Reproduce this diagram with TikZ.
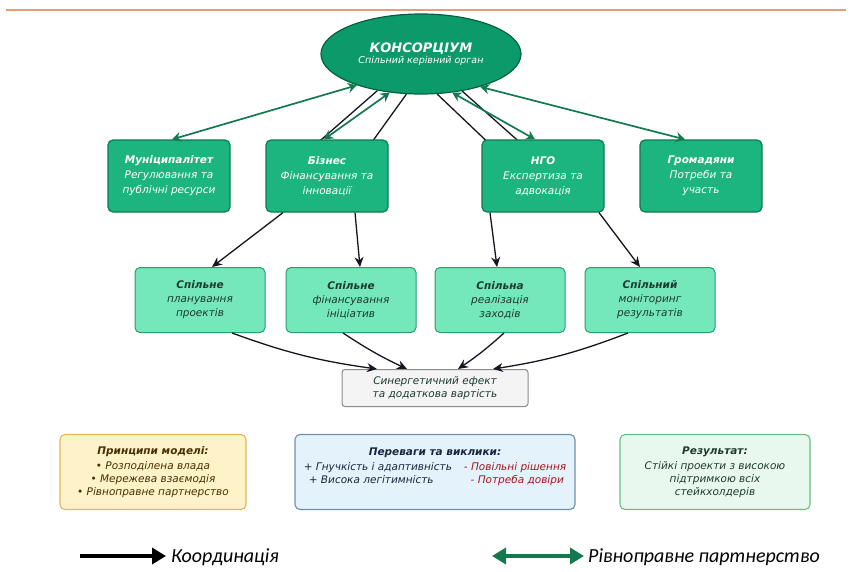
\documentclass[tikz,border=0pt]{standalone}
\usepackage{fontspec}
\setmainfont{DejaVu Sans}[ItalicFont={DejaVu Sans Oblique},BoldFont={DejaVu Sans Bold},BoldItalicFont={DejaVu Sans Bold Oblique}]
\newfontfamily\legfont{Carlito}
\usetikzlibrary{arrows.meta,shapes.geometric,backgrounds}
\definecolor{consF}{HTML}{0B9A6A}
\definecolor{consB}{HTML}{06603F}
\definecolor{actF}{HTML}{1DB57F}
\definecolor{actB}{HTML}{0E7A52}
\definecolor{procF}{HTML}{74E7BB}
\definecolor{procB}{HTML}{22A070}
\definecolor{procT}{HTML}{1C3A30}
\definecolor{synF}{HTML}{F4F4F4}
\definecolor{synB}{HTML}{8A8A8A}
\definecolor{yelF}{HTML}{FDF2C8}
\definecolor{yelB}{HTML}{E2B659}
\definecolor{yelT}{HTML}{4A2E08}
\definecolor{bluF}{HTML}{E4F2FC}
\definecolor{bluB}{HTML}{6F8FAF}
\definecolor{bluT}{HTML}{1A2440}
\definecolor{redT}{HTML}{A01818}
\definecolor{grnF}{HTML}{E8F8EE}
\definecolor{grnB}{HTML}{6ABF80}
\definecolor{grnT}{HTML}{1F3A2A}
\definecolor{garr}{HTML}{137A4F}
\definecolor{karr}{HTML}{15161F}
\definecolor{topline}{HTML}{E99D74}
\tikzset{
  consstyle/.style={ellipse, draw=consB, line width=1.2pt, fill=consF, text=white, align=center, inner sep=0pt},
  actor/.style={draw=actB, line width=1.2pt, fill=actF, rounded corners=5pt, minimum width=122pt, minimum height=72pt, align=center, text=white, font=\fontsize{10.5}{15}\selectfont\itshape},
  procbox/.style={draw=procB, line width=1pt, fill=procF, rounded corners=5pt, minimum width=130pt, minimum height=65pt, align=center, text=procT, font=\fontsize{10.5}{14}\selectfont\itshape},
  synbox/.style={draw=synB, line width=1pt, fill=synF, rounded corners=3pt, minimum width=186pt, minimum height=37pt, align=center, text=procT, font=\fontsize{10.5}{13.5}\selectfont\itshape},
  infobox/.style={line width=1.1pt, rounded corners=5pt, minimum height=75pt, align=center, font=\fontsize{10.5}{13}\selectfont\itshape},
  kline/.style={draw=karr, line width=1.3pt},
  karrow/.style={draw=karr, line width=1.3pt, -{Stealth[length=10pt,width=9pt]}},
  garrow/.style={draw=garr, line width=1.7pt, {Stealth[length=9pt,width=10pt]}-{Stealth[length=9pt,width=10pt]}},
  legtext/.style={anchor=west, font=\legfont\itshape\fontsize{20}{23}\selectfont, text=black, inner sep=0pt}
}
\begin{document}
\begin{tikzpicture}[x=1pt,y=-1pt]
\useasboundingbox (0,0) rectangle (852,571);
\draw[topline, line width=1.2pt] (6,10) -- (846,10);

% consortium
\node[consstyle, minimum width=200pt, minimum height=80pt] (cons) at (421,54)
  {{\bfseries\itshape\fontsize{13}{16}\selectfont КОНСОРЦІУМ}\\[-1pt]{\itshape\fontsize{9.5}{12}\selectfont Спільний керівний орган}};

% actors
\node[actor] (mun) at (169,176) {{\bfseries Муніципалітет}\\Регулювання та\\публічні ресурси};
\node[actor] (bus) at (327,176) {{\bfseries Бізнес}\\Фінансування та\\інновації};
\node[actor] (ngo) at (543,176) {{\bfseries НГО}\\Експертиза та\\адвокація};
\node[actor] (cit) at (701,176) {{\bfseries Громадяни}\\Потреби та\\участь};

% processes
\node[procbox] (pl) at (200,300) {{\bfseries Спільне}\\планування\\проектів};
\node[procbox] (fin) at (351,300) {{\bfseries Спільне}\\фінансування\\ініціатив};
\node[procbox] (rea) at (500,300) {{\bfseries Спільна}\\реалізація\\заходів};
\node[procbox] (mon) at (650,300) {{\bfseries Спільний}\\моніторинг\\результатів};

% synergy
\node[synbox] (syn) at (435,388) {Синергетичний ефект\\та додаткова вартість};

% info boxes
\node[infobox, draw=yelB, fill=yelF, text=yelT, minimum width=186pt] (pri) at (153,472)
  {{\bfseries Принципи моделі:}\\[2pt]• Розподілена влада\\• Мережева взаємодія\\• Рівноправне партнерство};
\node[infobox, draw=bluB, fill=bluF, text=bluT, minimum width=280pt] (adv) at (435,472)
  {{\bfseries Переваги та виклики:}\\[2pt]
   \begin{tabular}{@{}l@{\hspace{12pt}}l@{}}
   + Гнучкість і адаптивність & \textcolor{redT}{- Повільні рішення}\\
   \ \,+ Висока легітимність & \ \ \textcolor{redT}{- Потреба довіри}
   \end{tabular}\\[6pt]};
\node[infobox, draw=grnB, fill=grnF, text=grnT, minimum width=190pt] (res) at (715,472)
  {{\bfseries Результат:}\\[2pt]Стійкі проекти з високою\\підтримкою всіх\\стейкхолдерів};

% black coordination lines between consortium and actors (behind boxes)
\begin{scope}[on background layer]
\draw[kline] (cons.220) -- ([xshift=-10pt,yshift=-4pt]bus.north);
\draw[kline] (cons.250) -- ([xshift=44pt,yshift=-4pt]bus.north);
\draw[kline] (cons.292) -- ([xshift=-54pt,yshift=-4pt]ngo.north);
\draw[kline] (cons.318) -- ([xshift=-22pt,yshift=-4pt]ngo.north);
\end{scope}

% black coordination arrows from actors to processes
\draw[karrow] ([xshift=-44pt]bus.south) -- ([xshift=12pt]pl.north);
\draw[karrow] ([xshift=28pt]bus.south) -- ([xshift=9pt]fin.north);
\draw[karrow] ([xshift=-53pt]ngo.south) -- ([xshift=-3pt]rea.north);
\draw[karrow] ([xshift=56pt]ngo.south) -- ([xshift=-10pt]mon.north);

% green partnership arrows
\draw[garrow] (cons.206) -- ([xshift=3pt]mun.north);
\draw[garrow] (cons.231) -- ([xshift=-3pt]bus.north);
\draw[garrow] (cons.309) -- ([xshift=-8pt]ngo.north);
\draw[garrow] (cons.331) -- ([xshift=-16pt]cit.north);

% to synergy
\draw[karrow] ([xshift=32pt]pl.south) to[bend right=6] ([xshift=-58pt]syn.north);
\draw[karrow] ([xshift=-8pt]fin.south) to[bend right=4] ([xshift=-28pt]syn.north);
\draw[karrow] ([xshift=4pt]rea.south) to[bend left=4] ([xshift=23pt]syn.north);
\draw[karrow] ([xshift=-22pt]mon.south) to[bend left=6] ([xshift=58pt]syn.north);

% legend
\coordinate (la) at (80,556);
\coordinate (lb) at (166,556);
\draw[draw=black, line width=4pt, -{Triangle[length=14pt,width=16pt]}] (la) -- (lb);
\node[legtext] (lt1) at (171,557) {Координація};
\coordinate (ga) at (492,556);
\coordinate (gb) at (584,556);
\draw[draw=garr, line width=4pt, {Triangle[length=14pt,width=16pt]}-{Triangle[length=14pt,width=16pt]}] (ga) -- (gb);
\node[legtext] (lt2) at (588,557) {Рівноправне партнерство};
\end{tikzpicture}
\end{document}
